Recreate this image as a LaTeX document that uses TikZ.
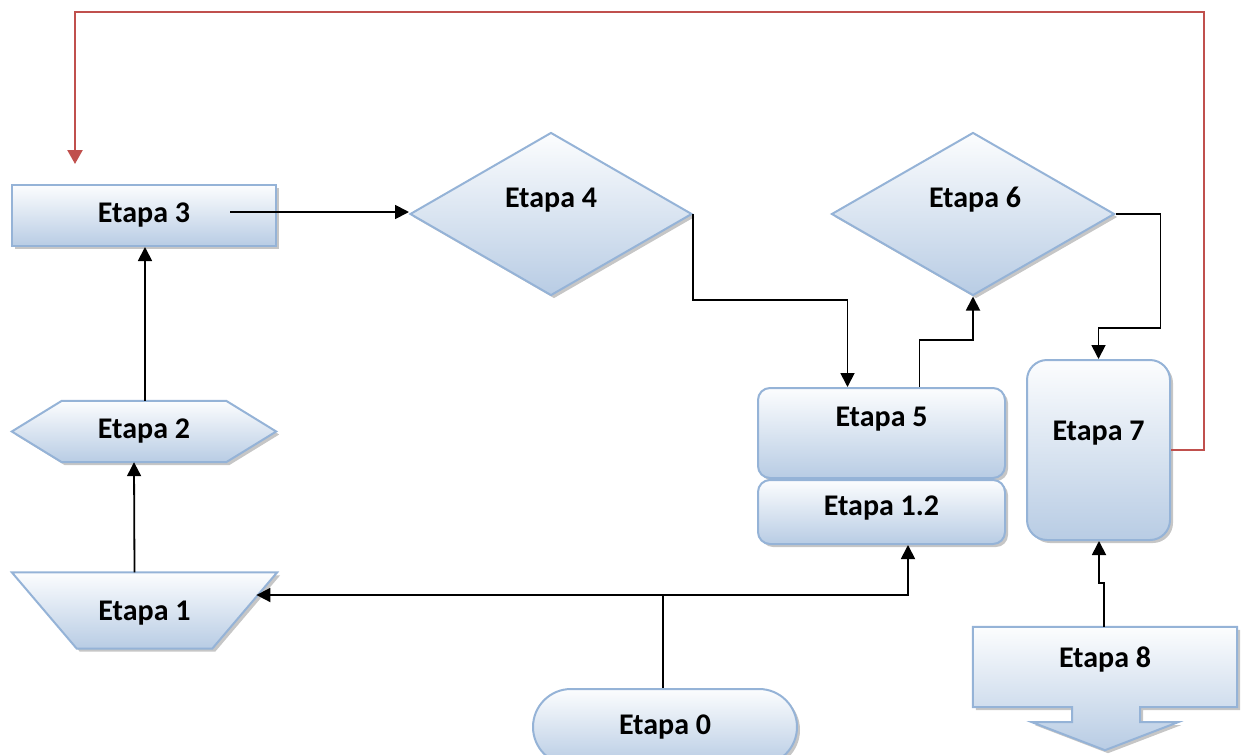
\documentclass[tikz,border=0pt]{standalone}
\usepackage{fontspec}
\setmainfont{Carlito}
\usetikzlibrary{arrows.meta}
\usetikzlibrary{shapes.geometric}
\usetikzlibrary{shadows}
\usetikzlibrary{calc}

\definecolor{stepline}{RGB}{149,179,215}
\definecolor{steptop}{RGB}{252,253,254}
\definecolor{stepbottom}{RGB}{184,204,228}
\definecolor{loopred}{RGB}{192,80,77}

\tikzset{
  stepshape/.style={draw=stepline, line width=2pt, top color=steptop, bottom color=stepbottom,
    drop shadow={shadow xshift=3pt, shadow yshift=-3pt, opacity=0.45}},
  stepframe/.style={rectangle, inner sep=0pt},
  steptext/.style={font=\bfseries\fontsize{30}{34}\selectfont, inner sep=0pt},
  conn/.style={line width=1.8pt, -{Triangle[length=14pt,width=14pt]}},
  backconn/.style={loopred, line width=2.4pt, -{Triangle[length=14pt,width=15pt]}}
}

\begin{document}
\begin{tikzpicture}[x=1pt,y=-1pt]
\useasboundingbox (0,0) rectangle (1245,755);

\node[stepshape, rectangle, inner sep=0pt, minimum width=264pt, minimum height=61pt] (e3) at (144,215.5) {};
\node[stepshape, diamond, inner sep=0pt, minimum width=282pt, minimum height=163pt] (e4) at (551,214) {};
\node[stepshape, diamond, inner sep=0pt, minimum width=283pt, minimum height=163pt] (e6) at (973,214) {};
\node[stepshape, rectangle, rounded corners=12pt, inner sep=0pt, minimum width=247pt, minimum height=90pt] (e5) at (881.5,433) {};
\node[stepshape, rectangle, rounded corners=12pt, inner sep=0pt, minimum width=247pt, minimum height=64pt] (e12) at (881.5,512) {};
\node[stepshape, rectangle, rounded corners=20pt, inner sep=0pt, minimum width=143pt, minimum height=180pt] (e7) at (1098.5,450) {};
\node[stepshape, rectangle, rounded corners=38pt, inner sep=0pt, minimum width=264pt, minimum height=76pt] (e0) at (665,727) {};

\node[stepframe, minimum width=264pt, minimum height=61pt] (e2) at (144,431.5) {};
\path[stepshape] (e2.west) -- ([xshift=50pt]e2.north west) -- ([xshift=-50pt]e2.north east) -- (e2.east)
  -- ([xshift=-50pt]e2.south east) -- ([xshift=50pt]e2.south west) -- cycle;

\node[stepframe, minimum width=265pt, minimum height=76pt] (e1) at (144.5,610.5) {};
\path[stepshape] (e1.north west) -- (e1.north east) -- ([xshift=-65pt]e1.south east) -- ([xshift=65pt]e1.south west) -- cycle;
\coordinate (e1r) at ($(e1.north east)!0.32!([xshift=-65pt]e1.south east)$);

\node[stepframe, minimum width=264pt, minimum height=80pt] (e8) at (1105,667) {};
\path[stepshape] (e8.north west) -- (e8.north east) -- (e8.south east) -- ([xshift=35pt]e8.south) -- ++(0,15) -- ++(38,0)
  -- ([yshift=-43pt]e8.south) -- ++(-73,-28) -- ++(40,0) -- ++(0,-15) -- (e8.south west) -- cycle;

\node[steptext] (t3) at (e3) {Etapa 3};
\node[steptext] (t4) at ([yshift=14pt]e4) {Etapa 4};
\node[steptext] (t6) at ([xshift=2pt,yshift=14pt]e6) {Etapa 6};
\node[steptext] (t2) at (e2) {Etapa 2};
\node[steptext] (t1) at ([yshift=-3pt]e1) {Etapa 1};
\node[steptext] (t5) at ([yshift=14pt]e5) {Etapa 5};
\node[steptext] (t12) at ([yshift=4pt]e12) {Etapa 1.2};
\node[steptext] (t7) at ([yshift=17pt]e7) {Etapa 7};
\node[steptext] (t8) at ([yshift=8pt]e8) {Etapa 8};
\node[steptext] (t0) at (e0) {Etapa 0};

\draw[conn] ([xshift=-10pt]e1.north) -- ([xshift=-10pt]e2.south);
\draw[conn] ([xshift=1pt]e2.north) -- ([xshift=1pt]e3.south);
\draw[conn] ($(e3.center |- e4.west)+(86,-2)$) -- ($(e4.west)+(0,-2)$);
\draw[conn] (e4.east) -- ++(0,86) -| ([xshift=-34pt]e5.north);
\draw[conn] ([xshift=38pt]e5.north) -- ++(0,-47) -| (e6.south);
\draw[conn] (e6.east) -- ++(45,0) -- ++(0,114) -| (e7.north);
\draw[conn] ([xshift=-1pt]e8.north) -- ++(0,-44) -| ([xshift=0.5pt]e7.south);
\draw[conn] ([xshift=-2pt]e0.north) -- ++(0,-93) coordinate (fork) -- (fork -| e1r);
\draw[conn] (fork) -| ([xshift=26.5pt]e12.south);
\draw[backconn] (e7.east) -- ++(33,0) -- ++(0,-438) -| ([xshift=-69pt,yshift=20pt]e3.north);
\end{tikzpicture}
\end{document}
